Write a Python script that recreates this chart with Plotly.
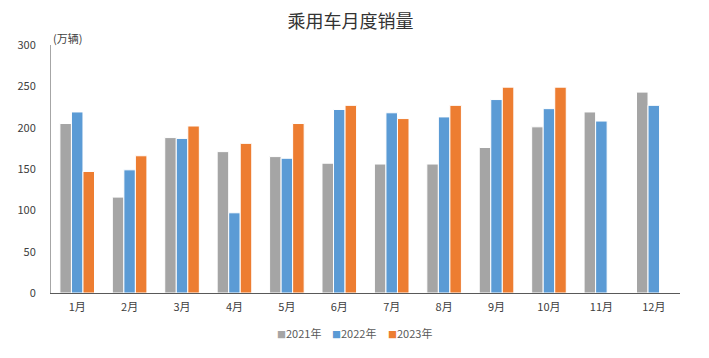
import plotly.graph_objects as go

months = ["1月", "2月", "3月", "4月", "5月", "6月", "7月", "8月", "9月", "10月", "11月", "12月"]
sales_2021 = [205, 116, 188, 171, 165, 157, 156, 156, 176, 201, 219, 243]
sales_2022 = [219, 149, 187, 97, 163, 222, 218, 213, 234, 223, 208, 227]
sales_2023 = [147, 166, 202, 181, 205, 227, 211, 227, 249, 249, None, None]
y_ticks = [0, 50, 100, 150, 200, 250, 300]

series = [
    ("2021年", sales_2021, "#A5A5A5"),
    ("2022年", sales_2022, "#5B9BD5"),
    ("2023年", sales_2023, "#ED7D31"),
]

font_family = "Noto Sans CJK SC, Noto Sans, sans-serif"

fig = go.Figure()
for name, vals, color in series:
    fig.add_trace(go.Bar(
        x=months, y=vals, name=name,
        marker=dict(color=color, line=dict(color="white", width=1)),
        showlegend=False,
    ))

fig.update_layout(
    width=709, height=358,
    margin=dict(l=43, r=37, t=37, b=73, autoexpand=False),
    paper_bgcolor="white", plot_bgcolor="white",
    barmode="group", bargap=0.34, bargroupgap=0.0,
    font=dict(family=font_family, size=11, color="#404040"),
    title=dict(text="乘用车月度销量", x=0.483, xanchor="center", y=0.962, yanchor="middle",
               font=dict(family=font_family, size=18, color="#333333")),
    xaxis=dict(showline=True, linecolor="#595959", linewidth=1, ticks="",
               tickfont=dict(size=11, color="#404040"), showgrid=False,
               ticklabelstandoff=4),
    yaxis=dict(range=[0, 300], tickvals=y_ticks, showline=True, linecolor="#A6A6A6",
               linewidth=1, showgrid=False, zeroline=False, ticks="",
               tickfont=dict(size=11, color="#404040"), ticklabelstandoff=12),
)

# legend built as text: coloured square glyph + series name, one entry each
legend_x = [0.356, 0.444, 0.532]
for (name, _, color), lx in zip(series, legend_x):
    fig.add_annotation(
        text=f'<span style="color:{color};font-size:9px">■</span>{name}',
        xref="paper", yref="paper", x=lx, y=-0.161,
        xanchor="left", yanchor="middle", showarrow=False,
        font=dict(family=font_family, size=11, color="#595959"))

fig.add_annotation(text="(万辆)", xref="paper", yref="paper", x=0.0, y=1.0,
                   xanchor="left", yanchor="bottom", showarrow=False, yshift=-3,
                   font=dict(family=font_family, size=11, color="#404040"))

fig.write_html("out.html")
